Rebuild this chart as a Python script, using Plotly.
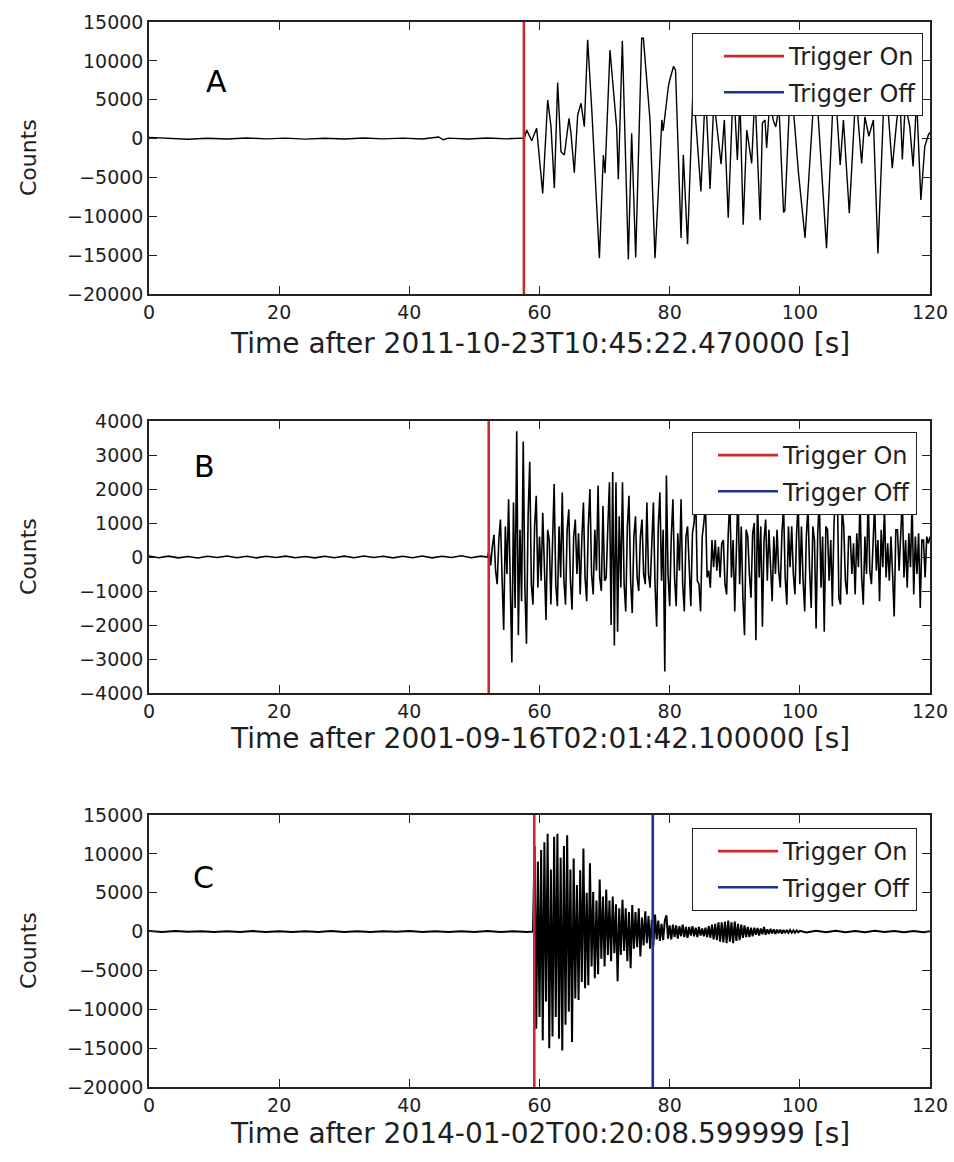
import numpy as np
import plotly.graph_objects as go

# ---------------- data ----------------
# Panel A (2011-10-23) : hand-read waveform (time [s], counts)
A_pre_t = [0, 3, 6, 9, 12, 15, 18, 21, 24, 27, 30, 33, 36, 39, 42, 44.5, 45.2, 46, 49, 52, 55, 57.2]
A_pre_v = [150, 60, -80, 40, -60, 80, -40, 60, -70, 50, -50, 70, -40, 60, -60, 200, -150, 60, -50, 70, -40, 60]
A_t = [57.67, 58.03, 58.80, 59.56, 60.49, 61.26, 61.77, 62.28, 62.79, 63.30, 63.82, 64.53, 64.84,
       65.35, 65.87, 66.38, 66.89, 67.40, 68.02, 69.20, 69.81, 70.07, 70.83, 71.86, 72.11, 72.73,
       73.65, 74.16, 74.78, 75.70, 75.96, 76.98, 77.75, 78.8, 79.0, 79.8, 80.0, 80.6, 80.9, 81.75,
       82.1, 82.75, 83.6, 84.8, 85.5, 86.2, 86.8, 87.9, 88.4, 89.0, 89.8, 90.4, 90.8, 91.3, 91.85,
       92.6, 93.1, 93.9, 94.25, 94.65, 94.9, 95.4, 95.9, 96.3, 96.8, 97.5, 97.7, 98.6, 99.8, 100.8,
       102.4, 104.1, 105.3, 106.2, 106.7, 107.6, 108.6, 109.5, 110.0, 110.6, 111.3, 112.0, 113.1,
       114.2, 114.9, 115.4, 115.75, 116.2, 116.9, 117.4, 117.95, 118.6, 119.2, 119.75, 120.0]
A_v = [0, 1100, -270, 1320, -7050, 4970, 1540, -6400, 7200, -1680, -2110, 2610, 680,
       -4390, 3040, 4540, 1540, 12700, 3900, -15400, -2110, -4470, 11400, 1320, -5240, 12600,
       -15550, 680, -15300, 12900, 12900, 2400, -15400, 2400, 1000, 6700, 7500, 9300, 8800, -12800,
       -2100, -13600, 7000, -6800, 6500, -6500, 5000, -3300, 2400, -10200, 7500, -2750, 5000, -11100, 1100,
       -3200, 6000, -10500, 2000, 2400, -1200, 5000, 2400, 1500, 4000, -9500, -9300, 8000, -4500, -12800,
       8500, -14100, 8500, -3400, 2400, -9600, 6000, -3200, 2800, 300, 2400, -14800, 9000,
       -3800, 2400, 5000, -2700, 4500, 1500, -3600, 5000, -7900, -1000, 470, 800]

# Panel B (2001-09-16): pre-event noise every 1.5 s, then samples every 0.25 s from 52.0 s
B_pre_t = [0, 1.5, 3, 4.5, 6, 7.5, 9, 10.5, 12, 13.5, 15, 16.5, 18, 19.5, 21, 22.5, 24, 25.5,
           27, 28.5, 30, 31.5, 33, 34.5, 36, 37.5, 39, 40.5, 42, 43.5, 45, 46.5, 48, 49.5, 51]
B_pre_v = [30, -20, 25, -25, 15, -30, 20, -15, 30, -20, 20, -25, 20, -15, 25, -20, 15, -25,
           20, -20, 25, -20, 30, -15, 20, -25, 20, -20, 30, -25, 20, -15, 35, -20, 25]
B_start = 52.0
B_step = 0.25
B_v = [0, 200, -250, 300, 650, -400, -800, 500, 1100, -600, -2150, 900, -500, 1700, -1200, -3100,
       1600, -1500, 3700, -2300, 800, -1300, 3400, -900, -2550, 1200, 2800, -800, -1400, 900, 1800, -900,
       600, -700, 1300, -600, -1850, 800, 500, -1400, 700, 2150, -800, -1450, 900, -600, 1900, -700,
       -1400, 800, 1400, -700, -1550, 600, 1100, -500, 700, -1100, 500, 1600, -600, -1300, 900, 2000,
       -500, -1100, 800, -400, 2100, -600, -1000, 1500, -700, -600, 900, 2200, -2000, 2500, -2600, 2200,
       -2200, 1200, -900, 2200, -800, -1600, 900, 1800, -700, -1650, 600, 1200, -600, -1000, 600, 1100,
       -500, -800, 1600, -500, -900, 700, 1600, -800, -2050, 900, 1900, -700, 800, -3370, 2400, -500,
       -1450, 600, 1700, -600, -1450, 700, -400, 1700, -800, -1600, 600, 900, -500, -1450, 700, 1000,
       1800, -700, -800, -1600, 600, 1000, 1600, -600, -400, -900, 500, -300, 500, -400, 300, -600,
       400, 500, -800, -1100, 700, 1700, -600, 500, -1600, 700, 2000, -800, 900, -1200, -2300, 800,
       600, -500, -1200, 700, 1000, -2450, 1800, -600, 900, -2050, 500, 1100, -700, 800, -400, -1300,
       600, -500, 800, -400, -900, 700, 1500, -600, -1400, 900, -300, 900, -500, -1100, 700, 1600,
       -800, 900, -700, -1600, 600, 1500, -400, -1500, 900, 500, -2100, 700, 1700, -900, 600, -2200,
       900, 800, -700, 500, -1450, 1000, 1800, 2200, -1200, -1400, 1400, 900, -700, -1100, 600, 600,
       -500, 400, -1100, 700, -300, 1700, -600, -1400, 600, -500, 1800, -400, -800, 700, 1600, -400,
       500, -1300, 800, -300, 1500, -600, 400, -700, 600, -500, -1750, 800, 800, -400, 900, 1700,
       -600, 500, -900, 700, -300, 1600, -1100, 600, -500, 700, -1500, 500, 500, -600, 600, 400, 600]

# Panel C (2014-01-02): pre-event noise, burst + coda every 0.25 s from 59.25 s, then tail
C_pre_t = [0, 2, 4, 6, 8, 10, 12, 14, 16, 18, 20, 22, 24, 26, 28, 30, 32, 34, 36, 38, 40, 42,
           44, 46, 48, 50, 52, 54, 56, 58, 59.0]
C_pre_v = [60, -40, 70, -30, 50, -60, 40, -50, 60, -40, 40, -60, 30, -40, 70, -50, 40,
           -60, 50, -30, 60, -40, 40, -70, 50, -40, 60, -50, 40, -60, 0]
C_start = 59.25
C_step = 0.25
C_v = [11000, -12500, 9000, -11000, 10500, -14000, 11500, -9000, 12600, -15000, 8000, -13500,
       12200, -11000, 12600, -13800, 9500, -15300, 11000, -12000, 12400, -10300, 8000, -14200,
       9400, -8600, 6000, -8800, 7900, -6500, 10700, -7300, 5000, -6900, 8800, -4500,
       5100, -6000, 4000, -5500, 6700, -3500, 4500, -4500, 5400, -3000, 4000, -3800,
       4500, -2800, 3500, -6400, 3000, -3000, 4100, -2500, 3000, -3800, 2500, -4700,
       3400, -2200, 2500, -2000, 3000, -3200, 1800, -1800, 2600, -1500, 2000, -2200,
       1500, -1800, 2200, -1000, 1400, -1200, 1000, -1100, 1400, 2100, -900, 800,
       -1000, 900, -700, 800, -900, 700, -600, 900, -700, 600, -800, 600,
       -500, 700, -600, 500, -700, 600, -500, 400, -600, 500, -700, 700,
       -800, 900, -1000, 1000, -1100, 1200, -1300, 1200, -1400, 1300, -1500, 1400,
       -1300, 1200, -1500, 1300, -1200, 1000, -1100, 900, -800, 800, -700, 600,
       -700, 500, -600, 500, -400, 450, -500, 400, -350, 600, -400, 300,
       -300, 350, -250, 300, -300, 250, -200, 250, -250, 200, -200, 200,
       -150, 200, -150, 150, -150, 150, -100, 100]
C_tail_t = [101, 102.5, 104, 105.5, 107, 108.5, 110, 111.5, 113, 114.5, 116, 117.5, 119, 120]
C_tail_v = [-120, 100, -80, 90, -100, 70, -80, 90, -60, 80, -90, 60, -70, 50]

# triggers
trig_on = [57.6, 52.2, 59.2]
trig_off = [None, None, 77.4]

titles = ["Time after 2011-10-23T10:45:22.470000 [s]",
          "Time after 2001-09-16T02:01:42.100000 [s]",
          "Time after 2014-01-02T00:20:08.599999 [s]"]
letters = ["A", "B", "C"]
letter_pos = [(10.3, 7400), (8.6, 2650), (8.3, 7000)]
y_ranges = [(-20000, 15000), (-4000, 4000), (-20000, 15000)]
y_dticks = [5000, 1000, 5000]
x_ticks = [0, 20, 40, 60, 80, 100, 120]

# ---------------- layout geometry (px) ----------------
W, H = 954, 1162
plot_left, plot_right = 149, 930
panels_px = [(22, 294), (421, 693), (815, 1087)]
xtitle_y = [343, 738, 1133]
legend_box = [(923, 33), (917, 432), (917, 828)]
legend_indent = [26, 20, 20]
wave_width = [1.4, 1.6, 2.0]

RED = "#cc2a2a"
BLUE = "#23309a"
TXT = "#1e1e1e"
FONT = "DejaVu Sans"

# assemble series
A_x = A_pre_t + A_t
A_y = A_pre_v + A_v
B_x = B_pre_t + list(B_start + B_step * np.arange(len(B_v)))
B_y = B_pre_v + B_v
C_x = C_pre_t + list(C_start + C_step * np.arange(len(C_v))) + C_tail_t
C_y = C_pre_v + C_v + C_tail_v
series = [(A_x, A_y), (B_x, B_y), (C_x, C_y)]

fig = go.Figure()
legend_names = ["legend", "legend2", "legend3"]
for i in range(3):
    xa = "x" if i == 0 else f"x{i+1}"
    ya = "y" if i == 0 else f"y{i+1}"
    sx, sy = series[i]
    fig.add_trace(go.Scatter(x=sx, y=sy, mode="lines", line=dict(color="black", width=wave_width[i]),
                             xaxis=xa, yaxis=ya, showlegend=False, hoverinfo="skip"))
    lo, hi = y_ranges[i]
    fig.add_trace(go.Scatter(x=[trig_on[i], trig_on[i]], y=[lo, hi], mode="lines",
                             line=dict(color=RED, width=2.6), name="Trigger On",
                             xaxis=xa, yaxis=ya, legend=legend_names[i], legendgroup=f"on{i}"))
    if trig_off[i] is None:
        ox, oy = [None], [None]
    else:
        ox, oy = [trig_off[i], trig_off[i]], [lo, hi]
    fig.add_trace(go.Scatter(x=ox, y=oy, mode="lines",
                             line=dict(color=BLUE, width=2.6), name="Trigger Off",
                             xaxis=xa, yaxis=ya, legend=legend_names[i], legendgroup=f"off{i}"))

layout = dict(width=W, height=H, margin=dict(l=0, r=0, t=0, b=0, autoexpand=False),
              paper_bgcolor="white", plot_bgcolor="white",
              font=dict(family=FONT, color=TXT, size=19))
annotations = []
for i in range(3):
    top, bot = panels_px[i]
    xk = "xaxis" if i == 0 else f"xaxis{i+1}"
    yk = "yaxis" if i == 0 else f"yaxis{i+1}"
    ya = "y" if i == 0 else f"y{i+1}"
    xa = "x" if i == 0 else f"x{i+1}"
    axcommon = dict(showline=True, linecolor="#222222", linewidth=1.5, mirror="allticks",
                    ticks="inside", ticklen=8, tickwidth=1.2, tickcolor="#222222", automargin=False,
                    showgrid=False, zeroline=False, tickfont=dict(size=19, family=FONT, color=TXT))
    layout[xk] = dict(domain=[plot_left / W, plot_right / W], range=[0, 120],
                      tickvals=x_ticks, anchor=ya, **axcommon)
    lo, hi = y_ranges[i]
    layout[yk] = dict(domain=[1 - bot / H, 1 - top / H], range=[lo, hi], dtick=y_dticks[i],
                      tick0=0, tickformat="d", anchor=xa, **axcommon)
    rx, ty = legend_box[i]
    layout[legend_names[i]] = dict(x=rx / W, y=1 - ty / H, xanchor="right", yanchor="top",
                                   bgcolor="white", bordercolor="#222222", borderwidth=1,
                                   font=dict(size=24, family=FONT, color=TXT),
                                   tracegroupgap=2, itemwidth=60, indentation=legend_indent[i])
    annotations.append(dict(text=titles[i], x=(plot_left + plot_right) / 2 / W, y=1 - xtitle_y[i] / H,
                            xref="paper", yref="paper", showarrow=False,
                            font=dict(size=28, family=FONT, color=TXT), xanchor="center", yanchor="middle"))
    annotations.append(dict(text="Counts", x=28 / W, y=1 - (top + bot) / 2 / H, xref="paper", yref="paper",
                            showarrow=False, textangle=-90,
                            font=dict(size=22, family=FONT, color=TXT), xanchor="center", yanchor="middle"))
    lx, ly = letter_pos[i]
    annotations.append(dict(text=letters[i], x=lx, y=ly, xref=xa, yref=ya, showarrow=False,
                            font=dict(size=30, family=FONT, color="black"),
                            xanchor="center", yanchor="middle"))
layout["annotations"] = annotations
fig.update_layout(**layout)
fig.write_html("out.html", config={"displayModeBar": False},
               post_script="document.body.style.margin='0';document.body.style.overflow='hidden';")
